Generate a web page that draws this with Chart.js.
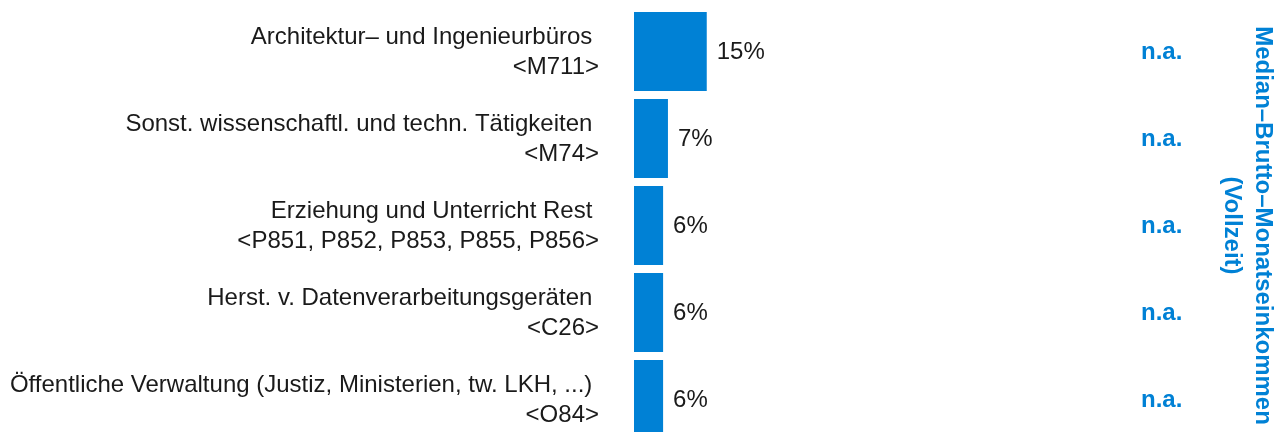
<!DOCTYPE html>
<html><head><meta charset="utf-8">
<script src="https://cdn.jsdelivr.net/npm/chart.js@4/dist/chart.umd.min.js"></script>
<style>
html,body{margin:0;padding:0;background:#fff;overflow:hidden;}
#wrap{width:1282px;height:432px;overflow:hidden;position:relative;}
#box{width:1282px;height:443px;position:absolute;top:0;left:0;}
</style></head><body>
<div id="wrap"><div id="box"><canvas id="c"></canvas></div></div>
<script>
const categories = [
  ['Architektur– und Ingenieurbüros ', '<M711>'],
  ['Sonst. wissenschaftl. und techn. Tätigkeiten ', '<M74>'],
  ['Erziehung und Unterricht Rest ', '<P851, P852, P853, P855, P856>'],
  ['Herst. v. Datenverarbeitungsgeräten ', '<C26>'],
  ['Öffentliche Verwaltung (Justiz, Ministerien, tw. LKH, ...) ', '<O84>']
];
const shareValues = [15, 7, 6, 6, 6];
const incomeLabels = ['n.a.', 'n.a.', 'n.a.', 'n.a.', 'n.a.'];
const incomeTitle = ['Median–Brutto–Monatseinkommen', '(Vollzeit)'];

const FAMILY = '"Liberation Sans", Arial, Helvetica, sans-serif';
const BLUE = '#0081d5';
const TEXT = '#1a1a1a';

const valueLabelPlugin = {
  id: 'valueLabels',
  afterDatasetsDraw(chart) {
    const ctx = chart.ctx;
    const meta = chart.getDatasetMeta(0);
    ctx.save();
    ctx.font = '24px ' + FAMILY;
    ctx.fillStyle = TEXT;
    ctx.textAlign = 'left';
    ctx.textBaseline = 'middle';
    meta.data.forEach((bar, i) => {
      ctx.fillText(shareValues[i] + '%', bar.x + 10, bar.y + 1);
    });
    ctx.restore();
  }
};

new Chart(document.getElementById('c'), {
  type: 'bar',
  data: {
    labels: categories,
    datasets: [{
      data: shareValues,
      backgroundColor: BLUE,
      borderWidth: 0,
      barPercentage: 0.908,
      categoryPercentage: 1
    }]
  },
  plugins: [valueLabelPlugin],
  options: {
    indexAxis: 'y',
    responsive: true,
    maintainAspectRatio: false,
    animation: false,
    layout: { padding: { top: 8, bottom: 0, left: 0, right: 0 } },
    plugins: { legend: { display: false }, tooltip: { enabled: false } },
    scales: {
      x: { display: false, min: 0, max: 100 },
      y: {
        position: 'left',
        grid: { display: false, drawTicks: false },
        border: { display: false },
        ticks: { color: TEXT, padding: 35, labelOffset: 1, font: { family: FAMILY, size: 24, lineHeight: 1.25 } },
        afterFit(s) { s.width = 634; s.paddingTop = 0; s.paddingBottom = 0; }
      },
      y2: {
        type: 'category',
        labels: incomeLabels,
        position: 'right',
        offset: true,
        grid: { display: false, drawTicks: false },
        border: { display: false },
        ticks: { color: BLUE, padding: 22, labelOffset: 1, font: { family: FAMILY, size: 24, weight: 'bold' } },
        title: {
          display: true,
          text: incomeTitle,
          color: BLUE,
          font: { family: FAMILY, size: 24, weight: 'bold', lineHeight: 1.29 },
          padding: { top: 3.5, bottom: 0 }
        },
        afterFit(s) { s.width = 163; s.paddingTop = 0; s.paddingBottom = 0; }
      }
    }
  }
});
</script>
</body></html>
